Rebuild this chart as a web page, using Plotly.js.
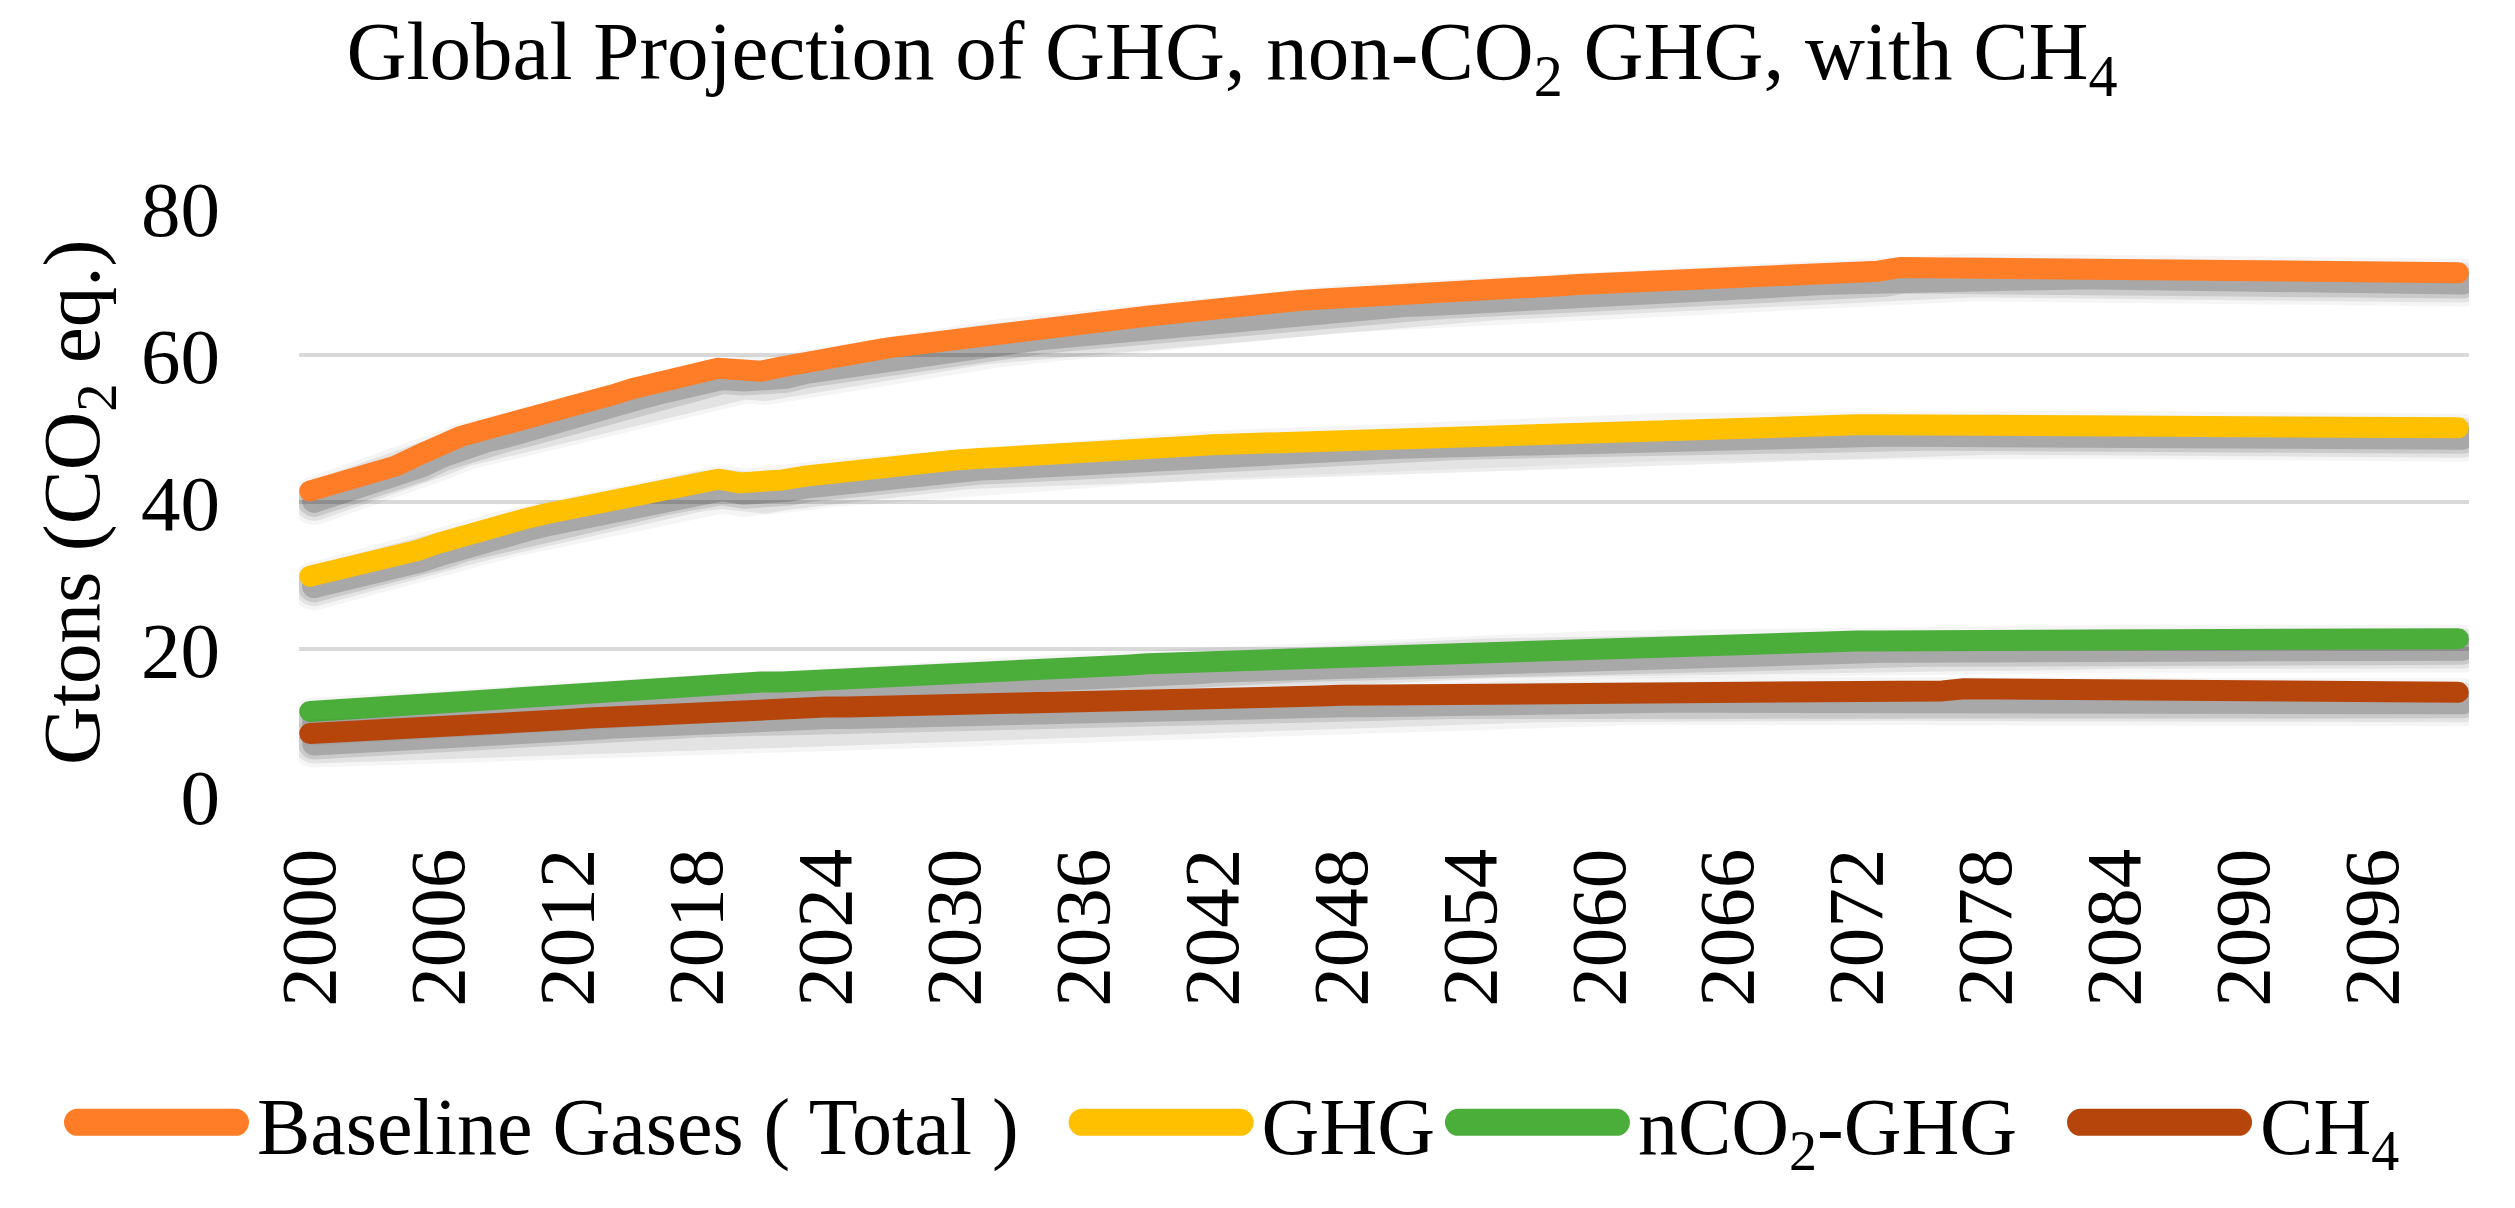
<!DOCTYPE html>
<html>
<head>
<meta charset="utf-8">
<script src="https://cdn.plot.ly/plotly-3.0.1.min.js"></script>
<style>
  html, body { margin: 0; padding: 0; background: #ffffff; }
  #chart { width: 2515px; height: 1208px; }
</style>
</head>
<body>
<div id="chart"></div>
<script>
// ---- data ----
const years = [
  2000,2001,2002,2003,2004,2005,2006,2007,2008,2009,
  2010,2011,2012,2013,2014,2015,2016,2017,2018,2019,
  2020,2021,2022,2023,2024,2025,2026,2027,2028,2029,
  2030,2031,2032,2033,2034,2035,2036,2037,2038,2039,
  2040,2041,2042,2043,2044,2045,2046,2047,2048,2049,
  2050,2051,2052,2053,2054,2055,2056,2057,2058,2059,
  2060,2061,2062,2063,2064,2065,2066,2067,2068,2069,
  2070,2071,2072,2073,2074,2075,2076,2077,2078,2079,
  2080,2081,2082,2083,2084,2085,2086,2087,2088,2089,
  2090,2091,2092,2093,2094,2095,2096,2097,2098,2099,
  2100
];

const baselineTotal = [
  41.5,42.3,43.1,44.0,44.9,46.3,47.7,48.9,49.7,50.4,
  51.1,51.8,52.7,53.6,54.5,55.4,56.2,57.0,57.8,58.2,
  58.0,57.8,58.4,59.1,59.6,60.0,60.5,61.0,61.4,61.9,
  62.4,62.7,63.0,63.3,63.7,64.0,64.3,64.7,65.0,65.3,
  65.6,66.0,66.3,66.6,66.9,67.2,67.4,67.6,67.7,67.8,
  68.0,68.2,68.3,68.5,68.6,68.8,69.0,69.2,69.4,69.6,
  69.7,69.9,70.1,70.3,70.4,70.6,70.7,70.8,70.9,71.0,
  71.1,71.2,71.3,71.4,71.9,71.9,71.9,71.9,71.9,71.9,
  71.9,71.9,71.9,71.9,71.9,71.9,71.9,71.9,71.9,71.9,
  71.9,71.9,71.9,71.9,71.9,71.2,71.2,71.2,71.2,71.2,
  71.2
];

const ghg = [
  29.9,30.5,31.1,31.8,32.5,33.4,34.4,35.4,36.2,37.0,
  37.7,38.4,39.0,39.6,40.3,40.9,41.5,42.1,42.8,43.1,
  42.6,42.5,43.0,43.5,43.9,44.2,44.5,44.8,45.1,45.4,
  45.7,45.9,46.0,46.2,46.4,46.5,46.7,46.9,47.1,47.3,
  47.4,47.6,47.8,47.9,48.1,48.2,48.4,48.5,48.6,48.7,
  48.8,48.9,49.0,49.2,49.3,49.4,49.5,49.6,49.7,49.8,
  50.0,50.1,50.1,50.2,50.3,50.3,50.4,50.4,50.5,50.5,
  50.5,50.5,50.5,50.5,50.5,50.5,50.5,50.5,50.5,50.5,
  50.5,50.5,50.5,50.5,50.5,50.5,50.5,50.5,50.5,50.5,
  50.5,50.1,50.1,50.1,50.1,50.1,50.1,50.1,50.1,50.1,
  50.1
];

const nco2Ghg = [
  11.5,11.7,12.0,12.2,12.5,12.8,13.0,13.2,13.5,13.7,
  13.9,14.1,14.3,14.5,14.7,14.9,15.1,15.3,15.4,15.4,
  15.4,15.5,15.5,15.6,15.7,15.8,16.0,16.1,16.3,16.4,
  16.5,16.7,16.9,17.1,17.2,17.4,17.6,17.7,17.8,18.0,
  18.1,18.2,18.4,18.5,18.7,18.8,19.0,19.1,19.2,19.3,
  19.5,19.6,19.7,19.9,20.0,20.1,20.2,20.3,20.4,20.5,
  20.6,20.6,20.7,20.7,20.8,20.8,20.9,20.9,21.0,21.0,
  21.0,21.1,21.1,21.1,21.1,21.1,21.1,21.1,21.1,21.1,
  21.4,21.4,21.4,21.4,21.4,21.4,21.4,21.4,21.4,21.4,
  21.4,21.4,21.4,21.4,21.4,21.4,21.4,21.4,21.4,21.4,
  21.4
];

const ch4 = [
  8.5,8.6,8.8,8.9,9.1,9.2,9.4,9.6,9.8,10.0,
  10.1,10.3,10.4,10.6,10.8,11.0,11.1,11.3,11.5,11.6,
  11.7,11.8,11.9,12.0,12.1,12.1,12.2,12.3,12.3,12.4,
  12.4,12.5,12.6,12.6,12.7,12.8,12.9,12.9,13.0,13.1,
  13.1,13.2,13.2,13.3,13.4,13.5,13.6,13.6,13.7,13.7,
  13.8,13.8,14.0,14.0,14.0,14.0,14.0,14.1,14.1,14.2,
  14.3,14.3,14.3,14.3,14.3,14.3,14.3,14.3,14.3,14.3,
  14.3,14.3,14.3,14.3,14.3,14.3,14.3,14.6,14.6,14.6,
  14.6,14.6,14.6,14.6,14.6,14.6,14.6,14.6,14.6,14.6,
  14.6,14.1,14.1,14.1,14.1,14.1,14.1,14.1,14.1,14.1,
  14.1
];

const seriesNames = ['Baseline Gases ( Total )', 'GHG', 'nCO<sub>2</sub>-GHG', 'CH<sub>4</sub>'];
const seriesColors = ['#FF7D26', '#FFC000', '#4BAE3B', '#B5450B'];

const xTickYears  = [2000,2006,2012,2018,2024,2030,2036,2042,2048,2054,2060,2066,2072,2078,2084,2090,2096];
const xTickLabels = ['2000','2006','2012','2018','2024','2030','2036','2042','2048','2054','2060','2066','2072','2078','2084','2090','2096'];
const yTickVals   = [0, 20, 40, 60, 80];

const chartTitle = 'Global Projection of GHG, non-CO<sub>2</sub> GHG, with CH<sub>4</sub>';
const yTitle = 'Gtons (CO<sub>2</sub> eq.)';

// ---- chart ----
const FONT = 'Liberation Serif, Times New Roman, serif';
const allSeries = [baselineTotal, ghg, nco2Ghg, ch4];
// extra trailing spacing after legend labels (Excel-like item gaps)
const legendPad = ['\u00a0\u00a0', '', '\u00a0\u00a0', ''];

// soft drop-shadow (Excel style) made of a few translucent grey strokes,
// shifted slightly right/down from each series (shift given in axis units)
const shadowShiftX = 0.2;   // years
const shadowShiftY = 1.35;  // Gt
const shadowLayers = [
  { width: 48, alpha: 0.04 },
  { width: 40, alpha: 0.07 },
  { width: 32, alpha: 0.11 },
  { width: 24, alpha: 0.17 }
];

const traces = [];
allSeries.forEach((vals, i) => {
  const sx = years.map(v => v + shadowShiftX);
  const sy = vals.map(v => v - shadowShiftY);
  shadowLayers.forEach(L => {
    traces.push({
      type: 'scatter', mode: 'lines',
      x: sx, y: sy,
      showlegend: false, hoverinfo: 'skip',
      line: { color: 'rgba(0,0,0,' + L.alpha + ')', width: L.width }
    });
  });
  traces.push({
    type: 'scatter',
    mode: 'lines',
    x: years,
    y: vals,
    name: seriesNames[i] + legendPad[i],
    line: { color: seriesColors[i], width: 21 },
    hoverinfo: 'skip'
  });
});

const layout = {
  width: 2515,
  height: 1208,
  margin: { l: 299, r: 46, t: 208, b: 412, pad: 0 },
  paper_bgcolor: '#ffffff',
  plot_bgcolor: '#ffffff',
  font: { family: FONT, color: '#000000', size: 80 },
  title: {
    text: chartTitle,
    font: { family: FONT, size: 83, color: '#000000' },
    xref: 'container', x: 0.4899, xanchor: 'center',
    yref: 'container', y: 0.959, yanchor: 'middle'
  },
  xaxis: {
    type: 'linear',
    range: [1999.5, 2100.5],
    tickmode: 'array',
    tickvals: xTickYears,
    ticktext: xTickLabels,
    tickangle: -90,
    showgrid: false,
    zeroline: false,
    showline: false,
    ticks: '',
    ticklabelstandoff: 36,
    tickfont: { family: FONT, size: 79, color: '#000000' },
    automargin: false,
    fixedrange: true
  },
  yaxis: {
    range: [0, 80],
    tickmode: 'array',
    tickvals: yTickVals,
    showgrid: true,
    gridcolor: '#d9d9d9',
    gridwidth: 4.5,
    zeroline: false,
    showline: false,
    ticks: '',
    ticklabelstandoff: 78,
    tickfont: { family: FONT, size: 79, color: '#000000' },
    automargin: false,
    fixedrange: true
  },
  showlegend: true,
  legend: {
    orientation: 'h',
    xref: 'paper', x: -0.1106, xanchor: 'left',
    yref: 'paper', y: -0.555, yanchor: 'middle',
    font: { family: FONT, size: 80, color: '#000000' },
    itemwidth: 188,
    bgcolor: 'rgba(0,0,0,0)',
    borderwidth: 0,
    traceorder: 'normal'
  },
  annotations: [{
    text: yTitle,
    textangle: -90,
    xref: 'paper', yref: 'paper',
    x: -0.1023, y: 0.5,
    xanchor: 'center', yanchor: 'middle',
    showarrow: false,
    font: { family: FONT, size: 81, color: '#000000' }
  }]
};

Plotly.newPlot('chart', traces, layout, { displayModeBar: false, staticPlot: true }).then(gd => {
  // rounded ends / joins for the data lines
  gd.querySelectorAll('.scatterlayer path.js-line').forEach(p => {
    p.setAttribute('stroke-linecap', 'round');
    p.setAttribute('stroke-linejoin', 'round');
    p.style.strokeLinecap = 'round';
    p.style.strokeLinejoin = 'round';
  });
  // long, thick rounded legend swatches
  gd.querySelectorAll('.legend .traces').forEach(tr => {
    const p = tr.querySelector('path.js-line');
    if (p) {
      p.setAttribute('d', 'M18.5,0h158');
      p.style.strokeWidth = '27px';
      p.style.strokeLinecap = 'round';
    }
  });
});
</script>
</body>
</html>
